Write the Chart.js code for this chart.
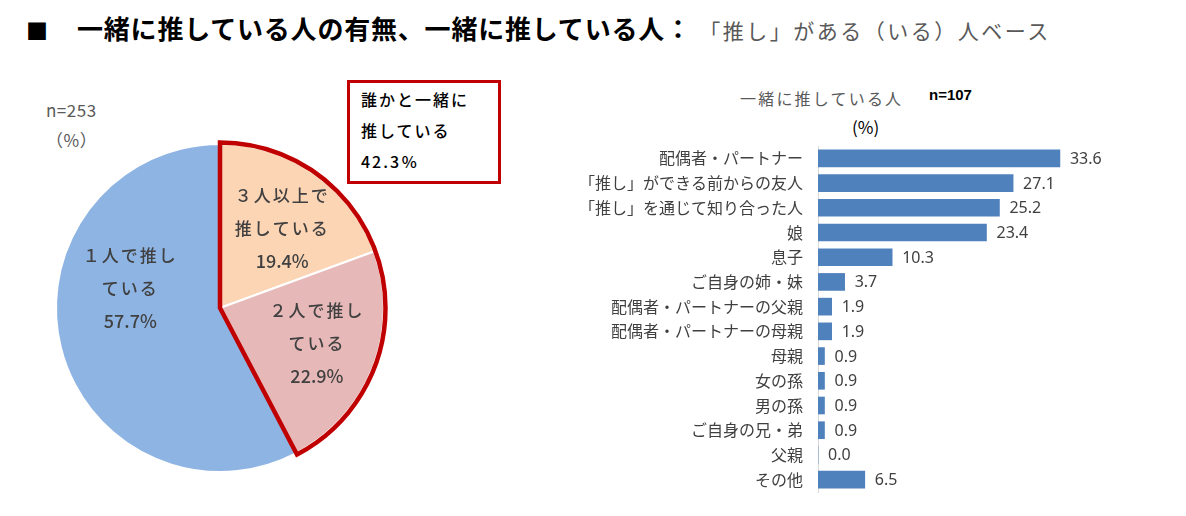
<!DOCTYPE html>
<html>
<head>
<meta charset="utf-8">
<script src="https://cdn.jsdelivr.net/npm/chart.js@4/dist/chart.umd.min.js"></script>
<style>
  body { margin:0; width:1186px; height:516px; background:#fff; position:relative; overflow:hidden;
         font-family:"Noto Sans CJK JP","Noto Sans",sans-serif; }
  .abs { position:absolute; white-space:nowrap; }
  #title { left:26px; top:9px; font-size:26px; font-weight:bold; color:#000; letter-spacing:0.8px; line-height:38px; }
  #title .sq { display:inline-block; width:51px; font-size:22px; letter-spacing:0; }
  #title .sub { font-size:21px; font-weight:normal; color:#595959; letter-spacing:2.5px; margin-left:18px; }
  #n1 { left:46px; top:95px; font-size:17px; color:#595959; line-height:30px; letter-spacing:0.5px; }
  #box { left:347px; top:80px; width:148px; height:98px; border:3px solid #C00000; }
  #boxText { left:361px; top:84px; font-size:16px; font-weight:500; color:#000; line-height:31px; letter-spacing:2px; }
  #barTitle { left:740px; top:86px; font-size:16px; color:#595959; letter-spacing:2.2px; }
  #barN { left:929px; top:86px; font-size:15px; font-weight:bold; color:#000; font-family:"Liberation Sans",sans-serif; }
  #pct { left:852px; top:114px; font-size:17px; color:#000; }
  #pieWrap { left:40px; top:128px; width:360px; height:360px; }
  #barWrap { left:580px; top:140px; width:606px; height:370px; }
</style>
</head>
<body>
<div id="title" class="abs"><span class="sq">■</span>一緒に推している人の有無、一緒に推している人：<span class="sub">「推し」がある（いる）人ベース</span></div>
<div id="n1" class="abs"></div>
<div id="box" class="abs"></div>
<div id="boxText" class="abs"></div>
<div id="barTitle" class="abs">一緒に推している人</div>
<div id="barN" class="abs"></div>
<div id="pct" class="abs">(%)</div>
<div id="pieWrap" class="abs"><canvas id="pieChart" width="360" height="360"></canvas></div>
<div id="barWrap" class="abs"><canvas id="barChart" width="606" height="370"></canvas></div>
<script>
// pie: 一緒に推している人の有無 (n=253)
const pieN = 253
const pieLabels = [['３人以上で', '推している'], ['２人で推し', 'ている'], ['１人で推し', 'ている']]
const pieValues = [19.4, 22.9, 57.7]
const togetherTotal = 42.3

// bar: 一緒に推している人 (n=107)
const barN = 107
const barCategories = [
  '配偶者・パートナー',
  '「推し」ができる前からの友人',
  '「推し」を通じて知り合った人',
  '娘',
  '息子',
  'ご自身の姉・妹',
  '配偶者・パートナーの父親',
  '配偶者・パートナーの母親',
  '母親',
  '女の孫',
  '男の孫',
  'ご自身の兄・弟',
  '父親',
  'その他'
]
const barValues = [33.6, 27.1, 25.2, 23.4, 10.3, 3.7, 1.9, 1.9, 0.9, 0.9, 0.9, 0.9, 0.0, 6.5]

document.getElementById('n1').innerHTML = 'n=' + pieN + '<br>（%）'
document.getElementById('boxText').innerHTML = '誰かと一緒に<br>推している<br>' + togetherTotal.toFixed(1) + '％'
document.getElementById('barN').textContent = 'n=' + barN

const pieColors = ['#FCD5B5', '#E6B9B8', '#8EB4E3']

// red outline around the slices of "誰かと一緒に" + the labels inside the slices
const pieExtras = {
  id: 'pieExtras',
  afterDatasetsDraw(chart) {
    const ctx = chart.ctx
    const arcs = chart.getDatasetMeta(0).data
    const a0 = arcs[0], a1 = arcs[1]
    ctx.save()
    ctx.beginPath()
    ctx.moveTo(a0.x, a0.y)
    ctx.arc(a0.x, a0.y, a0.outerRadius + 1.5, a0.startAngle, a1.endAngle)
    ctx.closePath()
    ctx.lineWidth = 4.5
    ctx.lineJoin = 'miter'
    ctx.strokeStyle = '#C00000'
    ctx.stroke()

    const nudge = [[3, 4], [1, -1], [8, -44]]
    ctx.fillStyle = '#404040'
    ctx.textAlign = 'center'
    ctx.textBaseline = 'middle'
    arcs.forEach((arc, i) => {
      const mid = (arc.startAngle + arc.endAngle) / 2
      const r = arc.outerRadius * 0.62
      const cx = arc.x + Math.cos(mid) * r + nudge[i][0]
      const cy = arc.y + Math.sin(mid) * r + nudge[i][1]
      const lines = pieLabels[i].concat([pieValues[i].toFixed(1) + '%'])
      lines.forEach((t, j) => {
        const isPct = j === lines.length - 1
        ctx.font = isPct ? '500 18px "Noto Sans CJK JP"' : '500 17px "Noto Sans CJK JP"'
        ctx.letterSpacing = isPct ? '0px' : '2px'
        ctx.fillText(t, cx + 1, cy + (j - 1) * 33)
      })
    })
    ctx.restore()
  }
}

new Chart(document.getElementById('pieChart'), {
  type: 'pie',
  data: {
    labels: pieLabels.map(l => l.join('')),
    datasets: [{
      data: pieValues,
      backgroundColor: pieColors,
      borderColor: '#ffffff',
      borderWidth: 2
    }]
  },
  options: {
    responsive: false,
    animation: false,
    radius: 164,
    plugins: { legend: { display: false }, tooltip: { enabled: false } }
  },
  plugins: [pieExtras]
})

// value labels next to the bars
const barValueLabels = {
  id: 'barValueLabels',
  afterDatasetsDraw(chart) {
    const ctx = chart.ctx
    ctx.save()
    ctx.fillStyle = '#404040'
    ctx.font = '16px "Noto Sans"'
    ctx.textAlign = 'left'
    ctx.textBaseline = 'middle'
    chart.getDatasetMeta(0).data.forEach((bar, i) => {
      ctx.fillText(barValues[i].toFixed(1), bar.x + 10, bar.y + 1)
    })
    ctx.restore()
  }
}

new Chart(document.getElementById('barChart'), {
  type: 'bar',
  data: {
    labels: barCategories,
    datasets: [{
      data: barValues,
      backgroundColor: '#4F81BD',
      borderWidth: 0,
      barThickness: 17
    }]
  },
  options: {
    indexAxis: 'y',
    responsive: false,
    animation: false,
    layout: { padding: { left: 0, right: 80, top: 6, bottom: 18 } },
    scales: {
      x: { display: false, min: 0, max: 40 },
      y: {
        grid: { display: false, drawTicks: false },
        border: { display: true, color: '#D9D9D9', width: 1 },
        ticks: { padding: 15, color: '#404040', font: { family: '"Noto Sans CJK JP"', size: 16 } },
        afterFit(scale) {
          scale.width = 238
          scale.paddingTop = 0
          scale.paddingBottom = 0
        }
      }
    },
    plugins: { legend: { display: false }, tooltip: { enabled: false } }
  },
  plugins: [barValueLabels]
})
</script>
</body>
</html>
